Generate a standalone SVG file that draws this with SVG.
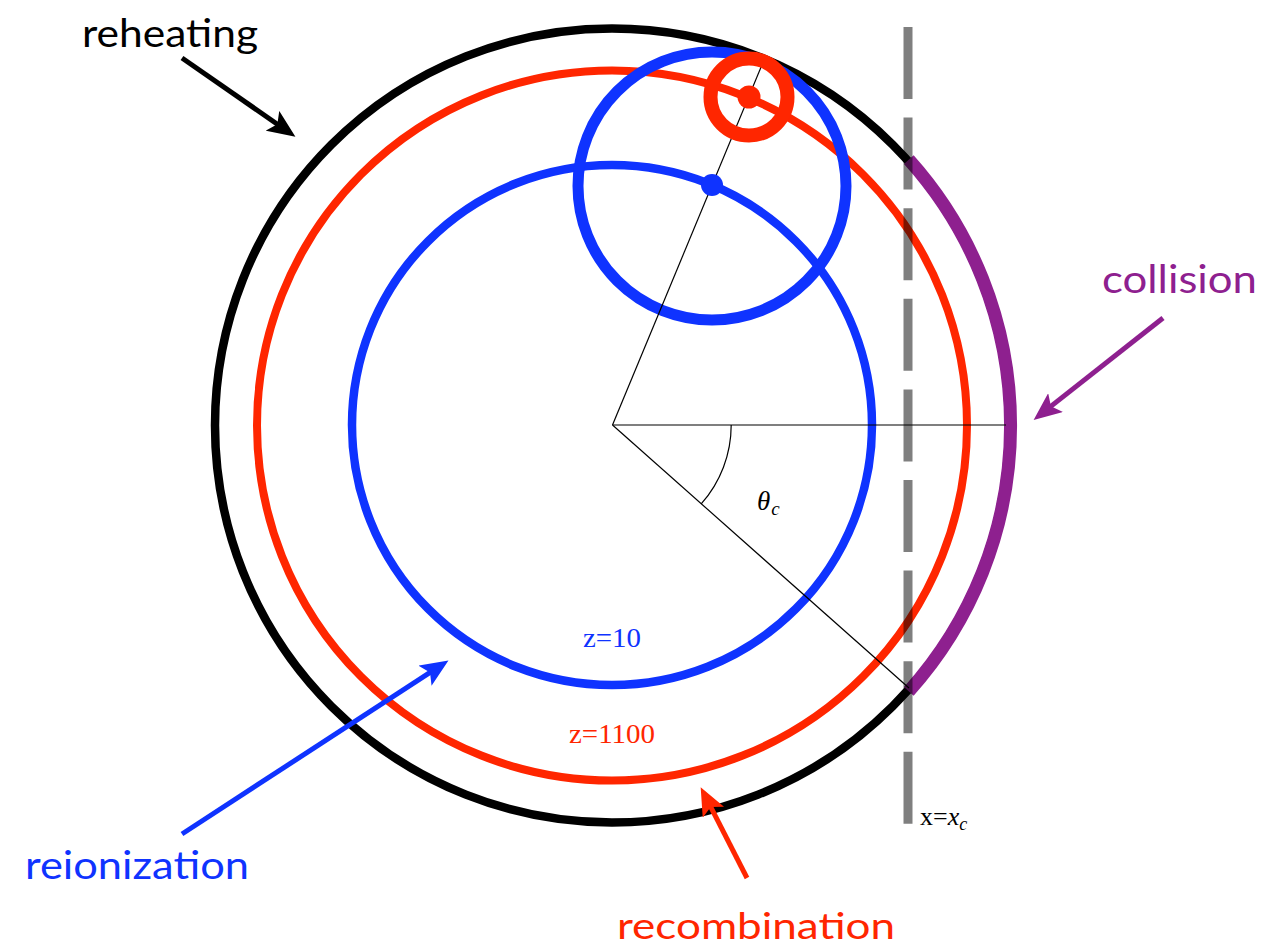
<svg xmlns="http://www.w3.org/2000/svg" width="1283" height="947" viewBox="0 0 1283 947">
<style>
.ring{fill:none}
.thin{stroke:#000;stroke-width:1.2;fill:none}
.lbl{font-family:Lato,"Open Sans","Liberation Sans",sans-serif;font-size:39px}
.math{font-family:"Liberation Serif","Times New Roman",serif}
.arr{stroke-width:5;fill:none}
</style>
<defs>
<marker id="hK" markerUnits="userSpaceOnUse" markerWidth="28" markerHeight="24" viewBox="0 0 28 24" refX="13" refY="12" orient="auto"><path d="M0,0 L28,12 L0,24 L6,12 Z" fill="#000"/></marker>
<marker id="hP" markerUnits="userSpaceOnUse" markerWidth="28" markerHeight="24" viewBox="0 0 28 24" refX="13" refY="12" orient="auto"><path d="M0,0 L28,12 L0,24 L6,12 Z" fill="#8e208f"/></marker>
<marker id="hB" markerUnits="userSpaceOnUse" markerWidth="28" markerHeight="24" viewBox="0 0 28 24" refX="13" refY="12" orient="auto"><path d="M0,0 L28,12 L0,24 L6,12 Z" fill="#0f33ff"/></marker>
<marker id="hR" markerUnits="userSpaceOnUse" markerWidth="28" markerHeight="24" viewBox="0 0 28 24" refX="13" refY="12" orient="auto"><path d="M0,0 L28,12 L0,24 L6,12 Z" fill="#ff2600"/></marker>
</defs>
<rect width="1283" height="947" fill="#fff"/>

<g id="reheating-surface"><circle class="ring" cx="612" cy="425.5" r="397" stroke="#000" stroke-width="8.5"/></g>
<g id="collision-arc"><path d="M 908.8 159.7 A 398 398 0 0 1 908.8 691.3" fill="none" stroke="#8e208f" stroke-width="13"/></g>
<g id="recombination-surface"><circle class="ring" cx="612" cy="425.5" r="355" stroke="#ff2600" stroke-width="8"/></g>
<g id="reionization-surface"><circle class="ring" cx="612" cy="425" r="260" stroke="#0f33ff" stroke-width="8.5"/></g>
<g id="horizon-blue"><circle class="ring" cx="712" cy="186" r="134" stroke="#0f33ff" stroke-width="11"/></g>

<g id="geometry">
<line class="thin" x1="612.5" y1="425" x2="764" y2="60"/>
<line class="thin" x1="612.5" y1="425" x2="1006" y2="425"/>
<line class="thin" x1="612.5" y1="425" x2="909" y2="688"/>
<path class="thin" d="M 731.2 425 A 118.7 118.7 0 0 1 701.2 503.9"/>
</g>

<g id="dot-blue"><circle cx="712" cy="185" r="11" fill="#0f33ff"/></g>
<g id="horizon-red"><circle class="ring" cx="749" cy="97" r="38.5" stroke="#ff2600" stroke-width="14"/><circle cx="749" cy="97" r="11.5" fill="#ff2600"/></g>

<g id="collision-plane"><line x1="908" y1="27" x2="908" y2="824" stroke="#000" stroke-opacity="0.5" stroke-width="9" stroke-dasharray="72 18.6"/></g>

<g id="connectors">
<line class="arr" x1="182" y1="58" x2="283.1" y2="128.2" stroke="#000" marker-end="url(#hK)"/>
<line class="arr" x1="1163" y1="318" x2="1045.4" y2="410.6" stroke="#8e208f" marker-end="url(#hP)"/>
<line class="arr" x1="182" y1="834" x2="435.9" y2="668.6" stroke="#0f33ff" stroke-width="4.5" marker-end="url(#hB)"/>
<line class="arr" x1="747" y1="878" x2="707.5" y2="800.7" stroke="#ff2600" marker-end="url(#hR)"/>
</g>

<g id="labels">
<text class="lbl" x="82" y="47" textLength="176" lengthAdjust="spacingAndGlyphs" fill="#000">reheating</text>
<text class="lbl" x="1102" y="293" textLength="155" lengthAdjust="spacingAndGlyphs" fill="#8e208f">collision</text>
<text class="lbl" x="25" y="879" textLength="224" lengthAdjust="spacingAndGlyphs" fill="#0f33ff">reionization</text>
<text class="lbl" x="617" y="939" font-size="37" textLength="278" lengthAdjust="spacingAndGlyphs" fill="#ff2600" style="font-size:37px">recombination</text>
<text class="math" x="583" y="647" font-size="28" fill="#0f33ff" textLength="58" lengthAdjust="spacingAndGlyphs">z=10</text>
<text class="math" x="569" y="743" font-size="28" fill="#ff2600" textLength="86" lengthAdjust="spacingAndGlyphs">z=1100</text>
<text class="math" x="757" y="510" font-size="27" font-style="italic" fill="#000">θ<tspan font-size="19" dx="1" dy="5">c</tspan></text>
<text class="math" x="920" y="825" font-size="26" fill="#000">x=<tspan font-style="italic">x</tspan><tspan font-style="italic" font-size="18" dy="5">c</tspan></text>
</g>
</svg>
